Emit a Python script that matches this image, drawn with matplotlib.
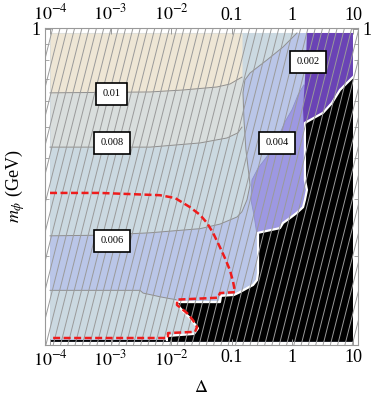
import matplotlib.pyplot as plt
import numpy as np
from matplotlib.patches import Rectangle
from matplotlib.collections import LineCollection
from matplotlib.ticker import NullFormatter

plt.rcParams['font.family'] = ['Liberation Serif', 'DejaVu Serif']
plt.rcParams['mathtext.fontset'] = 'stix'

# plotted data window
delta_range = [1e-4, 10]
mphi_range = [0.109, 0.972]
hatch_mphi_min = 0.212

# contour 0.01 (beige above)
beige_delta = [1e-4, 4.47e-3, 0.0157, 0.057, 0.0933, 0.122, 0.147]
beige_low_m = [0.636, 0.640, 0.649, 0.663, 0.677, 0.697, 0.711]

# contour 0.008 (grey above)
gray_delta = [1e-4, 4.47e-3, 0.0299, 0.0834, 0.126, 0.147]
gray_low_m = [0.433, 0.433, 0.446, 0.462, 0.479, 0.499]

# contour 0.006, upper region
lbg_delta = [1e-4, 1.19, 0.70, 0.381, 0.200, 0.165, 0.153, 0.159, 0.171, 0.192,
             0.200, 0.178, 0.147, 0.122, 0.0638, 0.0299, 4.47e-3, 6.68e-4, 1e-4]
lbg_m = [0.972, 0.972, 0.880, 0.803, 0.732, 0.697, 0.636, 0.525, 0.425, 0.355,
         0.331, 0.298, 0.274, 0.264, 0.251, 0.243, 0.236, 0.232, 0.231]

# contour 0.006, lower region
low_delta = [1e-4, 3.05e-3, 3.43e-3, 6.53e-3, 9.55e-3, 0.0120, 0.01396, 0.0204,
             0.0267, 0.0238, 8.5e-3, 8.5e-3, 1e-4]
low_m = [0.157, 0.157, 0.154, 0.150, 0.148, 0.147, 0.1386, 0.129,
         0.121, 0.116, 0.1153, 0.1112, 0.1112]

# contour 0.004
lav_delta = [1.55, 1.24, 0.984, 0.755, 0.557, 0.395, 0.271, 0.215, 0.207, 0.232,
             0.261, 0.261, 1.68, 1.68]
lav_m = [0.673, 0.627, 0.564, 0.518, 0.455, 0.409, 0.373, 0.343, 0.298, 0.268,
         0.232, 0.224, 0.224, 0.673]

# contour 0.002
dp_delta = [1.74, 10, 10, 1.55, 1.50, 1.55, 1.61, 1.68, 1.74]
dp_m = [0.972, 0.972, 0.489, 0.489, 0.564, 0.627, 0.697, 0.803, 0.972]

# excluded region
black_delta = [1e-4, 1e-4, 8.5e-3, 8.5e-3, 0.0238, 0.0277, 0.0204, 0.01396, 0.0120,
               0.0638, 0.0664, 0.109, 0.136, 0.185, 0.224, 0.261, 0.271, 0.271,
               0.624, 0.700, 0.912, 1.19, 1.50, 1.61, 1.74, 1.61, 1.61,
               3.20, 4.50, 6.10, 7.96, 10, 10]
black_m = [0.109, 0.1104, 0.1104, 0.1136, 0.1153, 0.120, 0.129, 0.1386, 0.1445,
           0.1445, 0.151, 0.152, 0.155, 0.160, 0.163, 0.169, 0.178, 0.236,
           0.244, 0.253, 0.262, 0.272, 0.283, 0.298, 0.320, 0.343, 0.514,
           0.552, 0.592, 0.649, 0.682, 0.711, 0.109]

# red dashed curve
red_delta = [1e-4, 6.68e-4, 6.53e-3, 0.01156, 0.0204, 0.0299, 0.0390, 0.0490, 0.0638,
             0.0773, 0.0933, 0.105, 0.113, 0.0638, 0.0592, 0.01248, 0.01248, 0.01824,
             0.0229, 0.0267, 0.0247, 8.85e-3, 8.85e-3, 1e-4]
red_m = [0.313, 0.313, 0.308, 0.302, 0.283, 0.268, 0.253, 0.236, 0.213,
         0.197, 0.181, 0.167, 0.155, 0.154, 0.149, 0.147, 0.1415, 0.1337,
         0.127, 0.121, 0.117, 0.116, 0.112, 0.112]

# contour labels
lab_text = ['0.01', '0.008', '0.006', '0.004', '0.002']
lab_delta = [1.05e-3, 1.05e-3, 1.05e-3, 0.557, 1.80]
lab_m = [0.631, 0.446, 0.223, 0.446, 0.792]

fig = plt.figure(figsize=(3.74, 3.98), dpi=100)
ax = fig.add_axes([0.1203, 0.1332, 0.8369, 0.7965])
ax.set_xscale('log')
ax.set_yscale('log')

ax.fill_between(delta_range, mphi_range[0], mphi_range[1], color='#BAC6E8', lw=0)
ax.fill(lbg_delta, lbg_m, color='#CBD9E1', lw=0)
ax.fill_between(gray_delta, gray_low_m, mphi_range[1], color='#D9DEDD', lw=0)
ax.fill_between(beige_delta, beige_low_m, mphi_range[1], color='#EEE6D5', lw=0)
ax.fill(low_delta, low_m, color='#CBD9E1', lw=0)
ax.fill(lav_delta, lav_m, color='#9D98E2', lw=0)
ax.fill(dp_delta, dp_m, color='#6A43B5', lw=0)

# contour lines
lc = '#8f8f8f'
ax.plot(beige_delta, beige_low_m, color=lc, lw=0.7)
ax.plot(gray_delta, gray_low_m, color=lc, lw=0.7)
ax.plot(lbg_delta[1:], lbg_m[1:], color=lc, lw=0.7)
ax.plot(low_delta[:6], low_m[:6], color=lc, lw=0.7)
ax.plot(lav_delta[:11], lav_m[:11], color='#8c90c8', lw=0.6)

ax.plot(black_delta[2:-1], black_m[2:-1], color='white', lw=1.6)
ax.fill(black_delta, black_m, color='black', lw=0)

# hatching over the upper part
clip = Rectangle((delta_range[0], hatch_mphi_min), delta_range[1] - delta_range[0],
                 mphi_range[1] - hatch_mphi_min, transform=ax.transData)
segs = [[(x0, 0), (x0 + 0.255, 1)] for x0 in np.arange(-0.3, 1.05, 0.0233)]
hl = LineCollection(segs, colors='#9a9a9a', linewidths=0.7, transform=ax.transAxes)
hl.set_clip_path(clip)
ax.add_collection(hl)

ax.plot(red_delta, red_m, color='#ee1c1c', lw=1.8, dashes=(2.8, 1.4))

for t, xd, yd in zip(lab_text, lab_delta, lab_m):
    ax.text(xd, yd, t, fontsize=7.5, ha='center', va='center', zorder=5,
            bbox=dict(boxstyle='square,pad=0.62', fc='white', ec='black', lw=1.2))

ax.set_xlim(8.26e-5, 12.1)
ax.set_ylim(0.1066, 1.007)

ax.set_xticks([1e-4, 1e-3, 1e-2, 0.1, 1, 10])
ax.set_xticklabels(['$10^{-4}$', '$10^{-3}$', '$10^{-2}$', '0.1', '1', '10'])
ax.set_yticks([1])
ax.set_yticklabels(['1'])
ax.set_yticks([0.2, 0.3, 0.4, 0.5, 0.6, 0.7, 0.8, 0.9], minor=True)
ax.yaxis.set_minor_formatter(NullFormatter())
ax.xaxis.set_minor_formatter(NullFormatter())

ax.tick_params(which='both', direction='in', color='#999999', labelcolor='black',
               top=True, right=True, labeltop=True, labelright=True, labelsize=13, pad=3)
ax.tick_params(which='major', length=4, width=0.7)
ax.tick_params(which='minor', length=3, width=0.6)
for s in ax.spines.values():
    s.set_color('#999999')
    s.set_linewidth(0.8)

ax.set_xlabel(r'$\Delta$', fontsize=13, labelpad=7)
ax.set_ylabel(r'$m_\phi$ (GeV)', fontsize=13)
ax.yaxis.set_label_coords(-0.058, 0.5)

plt.savefig('out.png', dpi=100)
